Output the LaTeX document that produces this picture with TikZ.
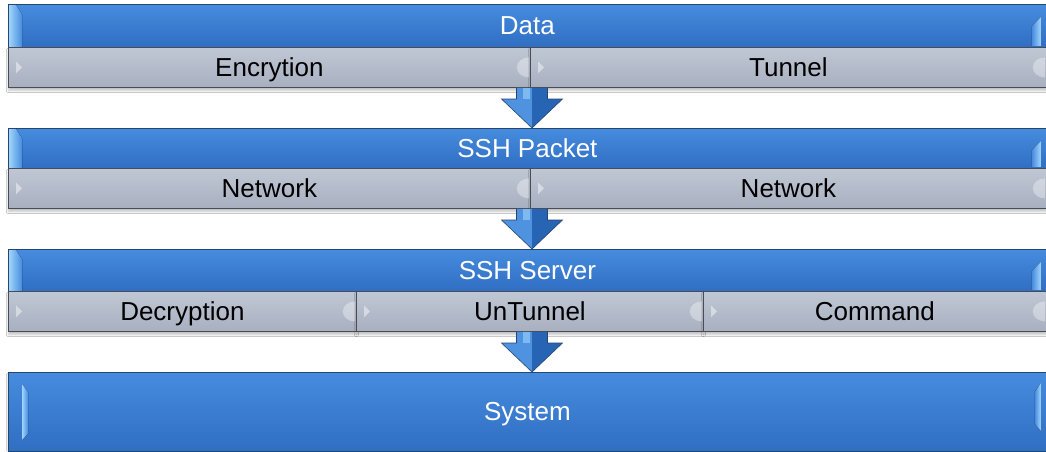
\documentclass[tikz,border=0pt]{standalone}
\usepackage{fontspec}
\setmainfont{Liberation Sans}
\usetikzlibrary{calc,shadows.blur}
\definecolor{bluetop}{RGB}{70,140,222}
\definecolor{bluebot}{RGB}{48,110,194}
\definecolor{blueline}{RGB}{38,70,112}
\definecolor{bluehi}{RGB}{160,212,252}
\definecolor{graytop}{RGB}{192,199,212}
\definecolor{graymid}{RGB}{184,192,206}
\definecolor{graybot}{RGB}{168,176,192}
\definecolor{grayline}{RGB}{72,76,86}
\definecolor{arrowlight}{RGB}{78,146,224}
\definecolor{arrowdark}{RGB}{40,100,180}
\tikzset{
  txt/.style={font=\fontsize{26}{30}\selectfont, text height=21pt, text depth=3pt},
  bar/.style={txt, draw=blueline, line width=0.8pt, top color=bluetop, bottom color=bluebot,
    text=white, inner sep=0pt, anchor=north west},
  cell/.style={txt, draw=grayline, line width=0.8pt, top color=graytop, middle color=graymid,
    bottom color=graybot, text=black, inner sep=0pt, anchor=north west,
    blur shadow={shadow xshift=0pt, shadow yshift=-3pt, shadow opacity=25, shadow blur steps=6}},
  sysbar/.style={bar, blur shadow={shadow xshift=0pt, shadow yshift=-3pt, shadow opacity=25, shadow blur steps=6}},
  arrowl/.style={fill=arrowlight},
  arrowr/.style={fill=arrowdark},
  arrowedge/.style={draw=blueline, line width=0.6pt, line join=miter},
}
\newcommand\barGlow[1]{%
  \fill[left color=bluehi, right color=bluetop]
    ($(#1.north west)+(1,1)$) -- ($(#1.north west)+(8,1)$) -- ($(#1.north west)+(14,10)$)
    -- ($(#1.south west)+(14,-1)$) -- ($(#1.south west)+(1,-1)$) -- cycle;
  \fill[left color=bluetop, right color=bluehi]
    ($(#1.north east)+(-6,13)$) -- ($(#1.south east)+(-6,-2)$)
    -- ($(#1.south east)+(-15,-2)$) -- ($(#1.north east)+(-15,22)$) -- cycle;
}
\newcommand\cellGlow[1]{%
  \fill[white, opacity=0.45] ($(#1.west)+(8,-6)$) -- ($(#1.west)+(14,0)$) -- ($(#1.west)+(8,6)$) -- cycle;
  \fill[white, opacity=0.35] ($(#1.east)+(-2,10)$) arc[start angle=90, end angle=270, x radius=12, y radius=10] -- cycle;
}
\newcommand\sshArrow[2]{%
  \path (#1.south -| ax) coordinate (ta) (#2.north -| ax) coordinate (ha);
  \fill[arrowl] ($(ta)+(-15.5,0)$) -- (ta) -- (ha) -- ($(ha)+(-30.5,-29)$) -- ($(ha)+(-15.5,-29)$) -- cycle;
  \fill[arrowr] ($(ta)+(15.5,0)$) -- (ta) -- (ha) -- ($(ha)+(30.5,-29)$) -- ($(ha)+(15.5,-29)$) -- cycle;
  \fill[bluehi, opacity=0.6] ($(ta)+(-9,0)$) rectangle ($(ha)+(-2,-29)$);
  \draw[arrowedge] ($(ta)+(-15.5,0)$) -- ($(ha)+(-15.5,-29)$) -- ($(ha)+(-30.5,-29)$) -- (ha)
    -- ($(ha)+(30.5,-29)$) -- ($(ha)+(15.5,-29)$) -- ($(ta)+(15.5,0)$);
}
\begin{document}
\begin{tikzpicture}[x=1pt, y=-1pt]
\useasboundingbox[fill=white] (0,0) rectangle (1046,451);
\coordinate (ax) at (532,0);
% row 1
\node[bar, minimum width=1038pt, minimum height=43pt] (data) at (8,4) {Data};
\node[cell, minimum width=522pt, minimum height=40pt] (enc) at (8,47) {Encrytion};
\node[cell, minimum width=516pt, minimum height=40pt] (tun) at (530,47) {Tunnel};
% row 2
\node[bar, minimum width=1038pt, minimum height=40pt] (pkt) at (8,128) {SSH Packet};
\node[cell, minimum width=522pt, minimum height=40pt] (net1) at (8,168) {Network};
\node[cell, minimum width=516pt, minimum height=40pt] (net2) at (530,168) {Network};
% row 3
\node[bar, minimum width=1038pt, minimum height=42pt] (srv) at (8,249) {SSH Server};
\node[cell, minimum width=348pt, minimum height=40pt] (dec) at (8,291) {Decryption};
\node[cell, minimum width=347pt, minimum height=40pt] (untun) at (356,291) {UnTunnel};
\node[cell, minimum width=343pt, minimum height=40pt] (cmd) at (703,291) {Command};
% system
\node[sysbar, minimum width=1038pt, minimum height=79pt] (sys) at (8,372) {System};
% glows
\barGlow{data}\barGlow{pkt}\barGlow{srv}
\fill[left color=bluehi, right color=bluetop]
  ($(sys.north west)+(14,12)$) -- ($(sys.north west)+(20,20)$) -- ($(sys.south west)+(20,-18)$)
  -- ($(sys.south west)+(14,-12)$) -- cycle;
\fill[left color=bluetop, right color=bluehi]
  ($(sys.north east)+(-6,11)$) -- ($(sys.south east)+(-6,-21)$)
  -- ($(sys.south east)+(-12,-28)$) -- ($(sys.north east)+(-12,20)$) -- cycle;
\foreach \c in {enc,tun,net1,net2,dec,untun,cmd} {\cellGlow{\c}}
% arrows
\sshArrow{enc}{pkt}
\sshArrow{net1}{srv}
\sshArrow{untun}{sys}
\end{tikzpicture}
\end{document}
